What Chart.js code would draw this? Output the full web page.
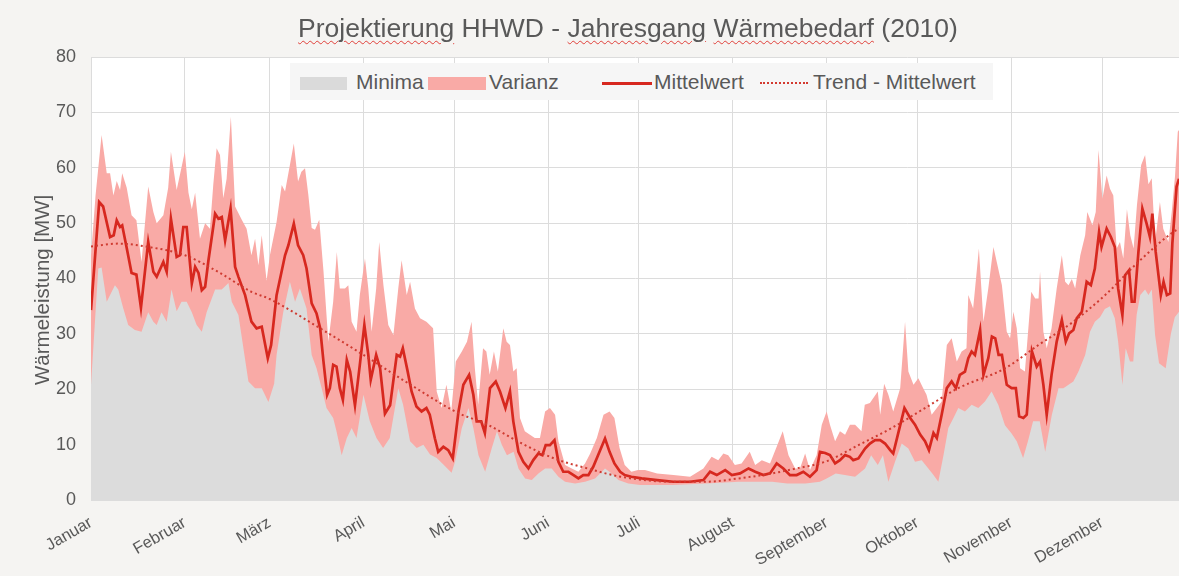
<!DOCTYPE html>
<html lang="de">
<head>
<meta charset="UTF-8">
<title>Projektierung HHWD - Jahresgang Wärmebedarf (2010)</title>
<script src="https://cdn.jsdelivr.net/npm/chart.js"></script>
<style>
    html, body {
        margin: 0;
        padding: 0;
        background: #f5f4f2;
        overflow: hidden;
        font-family: 'Liberation Sans', Arial, sans-serif;
    }
    .wrap {
        position: relative;
        width: 1179px;
        height: 576px;
    }
    .title {
        position: absolute;
        left: 0;
        width: 1256px;
        top: 13px;
        text-align: center;
        font-size: 26.5px;
        color: #595959;
        white-space: nowrap;
    }
    .title u {
        text-decoration: underline wavy #e0403a;
        text-decoration-thickness: 1px;
        text-underline-offset: 3px;
    }
    .legend {
        position: absolute;
        left: 290px;
        top: 63px;
        width: 703px;
        height: 37px;
        background: #f6f6f6;
        color: #595959;
        font-size: 21px;
    }
    .legend span { position: absolute; }
    .legend .txt { top: 7px; }
    .sw-min { left: 10px; top: 14px; width: 47px; height: 13px; background: #dadada; }
    .sw-var { left: 138px; top: 14px; width: 58px; height: 13px; background: #f9aaa6; }
    .sw-mean { left: 312px; top: 19px; width: 50px; height: 0; border-top: 3px solid #d7281f; }
    .sw-trend { left: 470px; top: 19px; width: 48px; height: 0; border-top: 2px dotted #d33a30; }
</style>
</head>
<body>
<div class="wrap">
    <canvas id="chart" width="1179" height="576"></canvas>
    <div class="title"><u>Projektierung</u> HHWD - <u>Jahresgang</u> <u>Wärmebedarf</u> (2010)</div>
    <div class="legend">
        <span class="sw-min"></span><span class="txt" style="left:66px">Minima</span>
        <span class="sw-var"></span><span class="txt" style="left:199px">Varianz</span>
        <span class="sw-mean"></span><span class="txt" style="left:364px">Mittelwert</span>
        <span class="sw-trend"></span><span class="txt" style="left:523px">Trend - Mittelwert</span>
    </div>
</div>

<script>
    // Monate (Tag im Jahr, an dem der Monat beginnt)
    const monthNames = ['Januar', 'Februar', 'März', 'April', 'Mai', 'Juni', 'Juli',
        'August', 'September', 'Oktober', 'November', 'Dezember'];
    const monthStart = [0, 31, 59, 90, 120, 151, 181, 212, 243, 273, 304, 334];
    const yTicks = [0, 10, 20, 30, 40, 50, 60, 70, 80];

    // Mittelwert [MW]
    const meanDay = [0, 2.7, 4, 6.3, 7.5, 8.5, 9.6, 10.3, 11.8, 13.4, 15, 16.5, 18.9, 20.6, 21.7, 23.9, 25, 26.4, 28.3, 29.4,
        30.5, 31.6, 33.3, 34.4, 35.5, 36.6, 37.7, 38.8, 41, 42.1, 43.2, 44.3, 46.1, 47.6, 48.7, 50.9, 53, 54.7, 56.4, 58.4,
        59.5, 61.3, 64.1, 65.2, 67, 68.4, 70.1, 71.2, 72.9, 74.5, 75.7, 76.8, 78, 78.9, 80, 81.1, 82.2, 83.2, 84.5, 85.6,
        87.2, 88.8, 90.3, 91.6, 92.4, 94.2, 95.5, 97.1, 98.8, 101, 102.1, 103, 104.5, 105.9, 107.5, 109.2, 110.8, 111.9, 113.6, 114.7,
        116.4, 118, 119.5, 121.4, 123, 124.9, 126.3, 127.4, 128.9, 130.1, 131.8, 133.7, 135.1, 136.9, 138.4, 139.5, 141.2, 142.8, 144.5, 146.1,
        147.8, 149.1, 150.2, 151.6, 153.1, 154.4, 156, 157.7, 159.4, 161, 162.6, 164.3, 165.9, 167.5, 169.8, 171.3, 172.9, 174.8, 176.3, 178.5,
        181.9, 187, 192.4, 197.9, 202.3, 204.5, 206.7, 209.5, 211.7, 214.4, 217.2, 219.4, 222.1, 224.3, 226.5, 228.7, 230.9, 233.1, 235.3, 237.5,
        239.7, 240.8, 242.5, 244.1, 245.8, 247.4, 249.1, 250.7, 251.8, 253.5, 255.7, 257.3, 259, 260.7, 262.3, 264, 265, 266.8, 268.7, 270.6,
        272.2, 273.9, 275.5, 276.8, 278.3, 279.4, 281, 282.7, 284.3, 285.7, 287, 288.7, 289.8, 290.9, 292, 293.7, 294.8, 296.4, 297.6, 298.7,
        299.8, 300.9, 302.5, 304.1, 305.5, 306.6, 308, 309.1, 310.8, 312.4, 313.5, 314.6, 315.7, 317.3, 319, 320.7, 322, 323.1, 324.5, 325.6,
        327.3, 328.9, 330.3, 331.6, 333, 333.8, 335.5, 336.9, 338.2, 339.3, 340.7, 341.6, 342.9, 343.8, 344.7, 346, 347.3, 348.7, 349.8, 350.6,
        351.7, 353.4, 354.3, 355.4, 356.5, 357.2, 358.6, 359.4];
    const meanMW = [34.3, 53.8, 53, 47.5, 47.8, 50.5, 49.3, 49.6, 45.5, 41, 40.7, 34.7, 46.6, 41.2, 40.3, 43, 41.2, 50.8, 43.9, 44.2,
        49.3, 49.3, 39.1, 42.1, 41, 37.9, 38.5, 43.3, 51.7, 50.8, 51.1, 46.9, 52.6, 42.1, 40.3, 37, 32.2, 31, 31.3, 25.6,
        28, 37, 44.2, 46, 49.9, 46, 44.2, 41.8, 35.5, 33.7, 31, 25, 19, 20.2, 24.4, 24.1, 20.2, 18.1, 25.3, 23.2,
        17.1, 24.4, 31.6, 26.2, 21.7, 26.2, 23.8, 15.6, 17.1, 26.2, 25.9, 27.4, 23.5, 19.6, 16.9, 16, 16.6, 15.4, 11.1, 8.7,
        9.6, 9, 7.5, 16, 20.8, 22.6, 19, 14.2, 14.2, 12.1, 20.2, 21.4, 19.6, 16.6, 19.6, 14.2, 8.7, 6.9, 5.7, 7.2,
        8.4, 8.1, 9.9, 9.9, 10.8, 6.9, 5.1, 5.1, 4.5, 3.9, 4.5, 4.5, 6, 8.1, 11.1, 8.7, 6.6, 5.1, 4.5, 4.2,
        3.9, 3.6, 3.3, 3.3, 3.6, 5.1, 4.5, 5.4, 4.5, 4.8, 5.7, 5.1, 4.5, 4.8, 6.6, 5.7, 4.5, 4.5, 5.1, 4.2,
        5.4, 8.7, 8.5, 8.1, 6.6, 7.2, 8.1, 7.8, 7.2, 7.5, 9.3, 10.2, 10.8, 10.8, 10.2, 9, 8.4, 12.4, 16.6, 14.8,
        13.6, 11.8, 10.6, 9, 12.1, 11.2, 15.4, 20.2, 21.4, 20.2, 22.6, 23.2, 25.6, 26.8, 26.2, 30.7, 22.6, 25.6, 29.5, 29.2,
        26.2, 26.2, 20.8, 20.2, 20.2, 15.1, 14.8, 15.4, 26.9, 24.1, 25, 20.8, 15.4, 22.6, 28.6, 32.5, 28.6, 30.1, 30.7, 32.8,
        34, 39.4, 38.8, 41.8, 48.4, 45.7, 49, 47.5, 45.7, 38.2, 33.4, 40.6, 41.5, 35.8, 35.8, 44.8, 52.6, 49.9, 47.5, 51.7,
        44.8, 37, 39.4, 37, 37.3, 46.3, 56.6, 58];

    // Maxima (obere Grenze der Varianz) [MW]
    const maxDay = [0, 1.5, 3.5, 5.2, 6.3, 7.4, 8.5, 9.6, 10.3, 11.8, 13.4, 15, 16.7, 18.9, 20.6, 21.7, 23.9, 25.5, 26.4, 28.3,
        31, 32.2, 33.3, 34.4, 36, 37.7, 39.3, 40.4, 41.5, 42.6, 43.7, 44.8, 46.2, 47.6, 49.8, 51.4, 53, 54.2, 55.3, 56.4,
        58, 59.1, 61.3, 63, 64.1, 65.7, 67, 68.4, 69.5, 70.7, 71.8, 72.9, 74, 75.4, 76.8, 78.4, 80, 81.2, 82.2, 83.9,
        85, 86.1, 87.7, 88.8, 90.5, 91.6, 92.7, 94.2, 95.2, 96.6, 98.2, 99.9, 101.5, 102.6, 104.3, 105.4, 107, 108.7, 110.8, 113,
        114.2, 115.8, 117.4, 119, 120.5, 122.5, 124.2, 125.7, 126.8, 127.9, 129.5, 130.6, 131.7, 133.1, 134.4, 136.2, 137.3, 138.4, 139.5, 140.6,
        141.7, 143.3, 145, 146.6, 148.3, 150, 151.6, 153.3, 154.4, 156.6, 158.8, 161, 163.2, 164.9, 167.1, 169.3, 171.3, 172.9, 174.6, 176.3,
        178.5, 180.7, 183, 187, 192.4, 197.9, 202.3, 205, 207.2, 208.9, 210.5, 212.7, 214.9, 217.6, 219.4, 221.6, 224.3, 226.5, 228.5, 230.4,
        232.6, 234.2, 235.9, 237.5, 239.7, 241.4, 243, 244.1, 245.8, 247.4, 249.1, 250.7, 252.4, 254.5, 255.6, 257.3, 259.9, 260.7, 262, 263.4,
        265, 267.3, 268.9, 270, 271.7, 273.3, 274.9, 276, 277.7, 279.4, 281, 282.7, 284.3, 286, 287.6, 289.2, 289.8, 291.4, 293.3, 294.8,
        296.4, 298.1, 299.2, 300.9, 302.5, 303.6, 304.7, 305.8, 306.9, 308.5, 310.6, 311.9, 313, 313.5, 314.6, 315.7, 317.3, 319, 320.7, 321.8,
        322.9, 324, 325.1, 326.8, 328.4, 329.1, 330.8, 331.9, 332.8, 334.1, 335.5, 336.6, 337.7, 338.8, 339.9, 341, 342.2, 343.3, 344.4, 345.5,
        346.9, 348.2, 349.3, 350.4, 351.5, 353.1, 354.2, 355.9, 357, 358.1, 359, 359.4];
    const maxMW = [44, 55, 65.9, 59, 59, 55, 57.6, 56, 59, 56.4, 51.4, 50.5, 43, 56.6, 52, 50, 51.4, 56.4, 62.9, 56,
        62.9, 55.5, 52.5, 55.5, 47.2, 50, 49, 57, 63.5, 62.3, 54.5, 58, 69.2, 53, 50.6, 49, 44.2, 47.2, 42.4, 47.8,
        39.6, 44.2, 50.2, 56.9, 55.7, 60.5, 64.4, 57.5, 59.3, 59.9, 55.1, 49.1, 48.8, 50.6, 41.3, 28.6, 35.8, 44.8, 38.2, 38.2,
        38.8, 32.2, 30.4, 37, 43.6, 38.2, 30.4, 38.2, 46.6, 38.8, 31.6, 29.8, 38.2, 43.3, 37, 39.4, 34.6, 32.8, 32.2, 31,
        19.6, 16.6, 20.8, 16, 25, 26.8, 28.6, 32.2, 23.8, 17.2, 27.4, 26.8, 22.6, 26.8, 23.2, 31, 28.6, 28, 23.2, 23.8,
        14.8, 12.4, 11.8, 11.2, 11.2, 16, 16.6, 15.4, 10.6, 6.3, 5.7, 5.1, 6.6, 8.4, 11.2, 15.4, 16, 14.8, 9.4, 6.3,
        5.1, 5.4, 5.4, 4.8, 4.5, 4.2, 5.7, 7.8, 7.2, 8.4, 8.1, 6.3, 6.6, 8.7, 6.3, 7.2, 6.6, 9.6, 12.4, 8.1,
        5.7, 5.7, 8.4, 5.4, 8.1, 13.6, 16, 13.6, 10.6, 12.4, 11.8, 13.6, 13.6, 12.4, 17.2, 17.5, 19.6, 15.4, 21, 19,
        16, 20.2, 32.2, 23.2, 20.8, 22, 20.2, 19, 15.4, 16.6, 17.8, 28, 29.2, 25, 26.8, 27.4, 37, 34.6, 45.4, 32.2,
        38.2, 45.7, 43, 38.8, 30.4, 29.2, 34, 31, 23.8, 23.2, 37.6, 36.4, 36.4, 41.2, 30.4, 27.4, 31, 38.2, 44.2, 39.4,
        38.8, 39.9, 38.2, 44.2, 47.8, 52, 49.6, 52, 63.2, 54.4, 58.6, 56.2, 55, 45.4, 46.6, 43.6, 52.5, 47.8, 45.4, 53.2,
        60.5, 62.3, 57, 58.1, 46.6, 53.8, 49, 46.6, 52, 58.6, 66.5, 66.8];

    // Minima [MW]
    const minDay = [0, 2.4, 3.5, 5.2, 7.9, 9, 10.6, 12.3, 14.5, 16.7, 18.9, 20.6, 21.7, 23.3, 25, 26.6, 28.3, 29.9, 31.6, 33.3,
        34.9, 36.6, 38.2, 41, 43.2, 45.4, 46.5, 48.7, 52, 54.2, 56.4, 58.6, 60.5, 61.3, 63.5, 65.7, 67.4, 69, 71.2, 72.9,
        74.5, 76.2, 77.8, 80, 81.1, 82.8, 84.5, 86.1, 87.7, 90, 92.1, 94.3, 96.5, 98.7, 101.5, 103.1, 105.4, 107.6, 109.8, 112,
        114.2, 116.4, 119.1, 120.3, 122.5, 124.7, 126.3, 128, 130.2, 132.4, 134.1, 135.7, 137.4, 139.6, 141.2, 143.4, 145.6, 147.8, 150, 152.2,
        154.4, 156.6, 159.9, 163.2, 166.5, 169.8, 172, 174.2, 177.5, 181.4, 192, 203, 214, 225, 230, 236, 240.8, 243, 246, 249,
        252.4, 255.7, 257.7, 259.9, 261.6, 263.4, 265.6, 267.8, 270, 272.2, 274.4, 276.6, 278.3, 279.9, 281.6, 283.2, 284.9, 286.5, 288.7, 290.9,
        293.1, 295.3, 297.5, 299.7, 301.9, 304.1, 305.8, 307.9, 309.5, 311.2, 313.4, 315.2, 317.4, 319.6, 321.2, 322.9, 324.5, 326.2, 328.4, 330,
        331.6, 333.3, 334.9, 336.6, 338.2, 339.3, 340.7, 341.8, 343.2, 344.3, 345.4, 346.6, 348.2, 349.3, 350.4, 351.5, 352.8, 355, 356.7, 358,
        359.4];
    const minMW = [20.8, 41.8, 42, 35.8, 38.8, 38, 34.7, 31.6, 30.7, 30.4, 33.9, 32.2, 31.6, 33.9, 32.2, 38, 34.1, 35.8, 35.8, 33.9,
        31.6, 30.4, 33.9, 38, 38, 39.2, 35.8, 33.4, 21.4, 20.2, 20.2, 17.7, 21, 26.2, 33.9, 39.4, 35.8, 38.2, 34.6, 26.2,
        23.8, 20.2, 16.6, 14.8, 12.4, 8.1, 11.2, 13, 11.2, 19, 14.2, 11.2, 9.4, 11.2, 20.2, 17.2, 10.6, 9.4, 10, 8.2,
        7.6, 6.4, 4.9, 7, 13, 16.6, 13, 8.1, 5.1, 9.4, 12.4, 10, 8.1, 8.7, 5.7, 3.9, 3.6, 4.8, 5.7, 5.7,
        4.2, 3.3, 3, 3.3, 3.9, 5.7, 4.8, 3.6, 3, 2.7, 2.7, 3, 3.3, 3.3, 3, 3, 3.3, 3.9, 4.8, 4.5,
        4.2, 5.7, 8.1, 6.3, 8.1, 3.3, 6.9, 10.2, 9.3, 6.9, 7.2, 5.7, 4.5, 3.3, 8.1, 13, 14.8, 16.6, 16, 17.2,
        16.6, 17.8, 19.6, 17.2, 13.5, 12, 10.6, 7.6, 10.6, 14.2, 14.2, 8.7, 15.4, 20.2, 20.2, 20.8, 21.4, 23.2, 26.2, 30.4,
        32.2, 33, 34.5, 35, 32.8, 28.6, 20.8, 27.4, 25, 25, 33.4, 37, 38, 37, 38, 29.8, 24.7, 23.8, 30, 33,
        34];

    // Trend - Mittelwert [MW]
    const trendDay = [0, 9, 19, 31, 42, 53, 59, 75.7, 90, 105.6, 121, 131, 142, 153, 164, 175, 192, 203, 214, 225,
        233, 242.5, 253.5, 264.5, 275.5, 286.5, 302, 313, 324, 335, 346, 357, 359.4];
    const trendMW = [45.8, 46.3, 45.7, 44.2, 41.2, 37.6, 36.3, 31, 26.2, 20.8, 15.8, 13.6, 10.3, 7.5, 5.7, 4.2, 3.3, 3.3, 3.9, 4.8,
        5.7, 6.9, 9.9, 13, 16.6, 20.2, 23.8, 28, 32, 37, 43, 48.2, 49];

    const pts = (xs, ys) => xs.map((x, i) => ({ x: x, y: ys[i] }));

    const plotBg = {
        id: 'plotBg',
        beforeDraw(chart) {
            const a = chart.chartArea;
            const ctx = chart.ctx;
            ctx.save();
            ctx.fillStyle = '#ffffff';
            ctx.fillRect(a.left, a.top, a.right - a.left, a.bottom - a.top);
            ctx.restore();
        }
    };

    Chart.defaults.font.family = "'Liberation Sans', Arial, sans-serif";
    Chart.defaults.color = '#595959';

    new Chart(document.getElementById('chart'), {
        type: 'line',
        data: {
            datasets: [
                {
                    label: 'Trend - Mittelwert',
                    data: pts(trendDay, trendMW),
                    borderColor: '#cf3b31',
                    borderWidth: 2,
                    borderDash: [2, 3],
                    cubicInterpolationMode: 'monotone',
                    pointRadius: 0,
                    fill: false
                },
                {
                    label: 'Mittelwert',
                    data: pts(meanDay, meanMW),
                    borderColor: '#d7281f',
                    borderWidth: 2.7,
                    pointRadius: 0,
                    fill: false
                },
                {
                    label: 'Minima',
                    data: pts(minDay, minMW),
                    borderWidth: 0,
                    backgroundColor: '#dcdcdc',
                    pointRadius: 0,
                    fill: 'origin'
                },
                {
                    label: 'Varianz',
                    data: pts(maxDay, maxMW),
                    borderWidth: 0,
                    backgroundColor: '#f9aaa6',
                    pointRadius: 0,
                    fill: 'origin'
                }
            ]
        },
        options: {
            responsive: false,
            animation: false,
            devicePixelRatio: 1,
            layout: { padding: { top: 57, right: 0, left: 0, bottom: 0 } },
            plugins: {
                legend: { display: false },
                tooltip: { enabled: false }
            },
            scales: {
                x: {
                    type: 'linear',
                    min: 0,
                    max: 359.4,
                    afterBuildTicks: (axis) => { axis.ticks = monthStart.map(v => ({ value: v })); },
                    afterFit: (axis) => { axis.height = 76; },
                    grid: { color: '#dcdcdc', drawTicks: false },
                    border: { color: '#dcdcdc' },
                    ticks: {
                        minRotation: 30,
                        maxRotation: 30,
                        padding: 13,
                        font: { size: 16.5 },
                        callback: (v) => monthNames[monthStart.indexOf(v)]
                    }
                },
                y: {
                    min: 0,
                    max: 80,
                    afterBuildTicks: (axis) => { axis.ticks = yTicks.map(v => ({ value: v })); },
                    afterFit: (axis) => { axis.width = 91; },
                    grid: { color: '#dcdcdc', drawTicks: false },
                    border: { color: '#dcdcdc' },
                    ticks: { padding: 15, font: { size: 18 } },
                    title: {
                        display: true,
                        text: 'Wärmeleistung [MW]    ',
                        font: { size: 20.5 },
                        padding: { top: 31, bottom: 0 }
                    }
                }
            }
        },
        plugins: [plotBg]
    });
</script>
</body>
</html>
